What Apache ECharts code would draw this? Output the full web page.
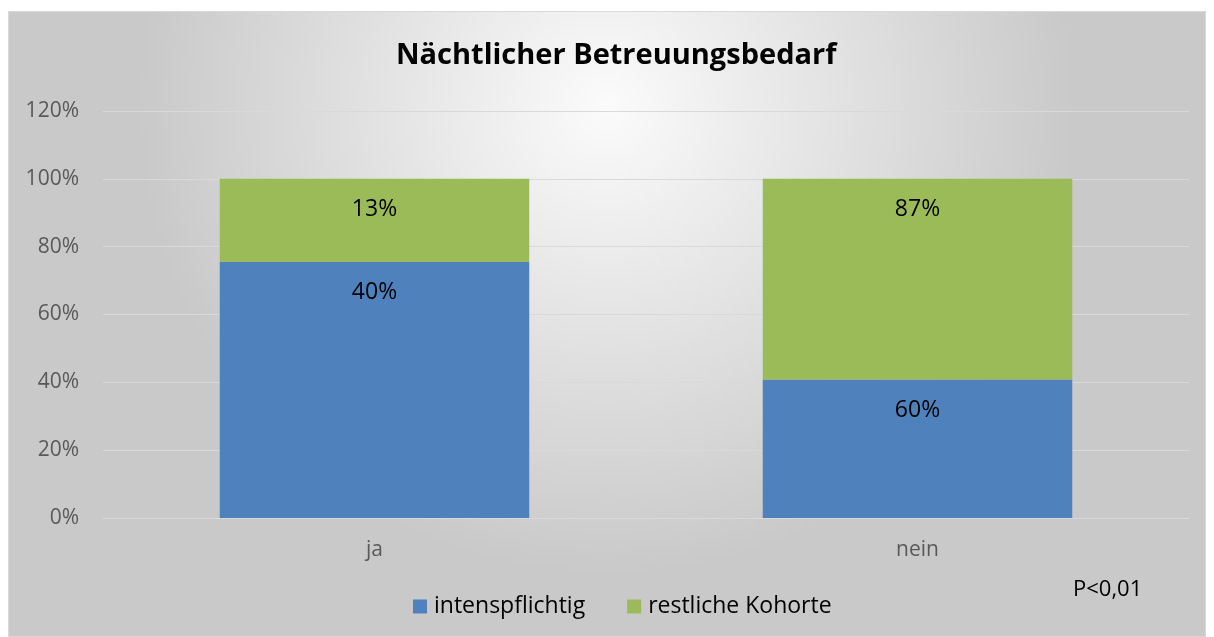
<!DOCTYPE html>
<html>
<head>
<meta charset="utf-8">
<script src="https://cdn.jsdelivr.net/npm/echarts@6/dist/echarts.min.js"></script>
<style>
html, body { margin: 0; padding: 0; background: #ffffff; }
#chart { position: absolute; left: 8px; top: 11px; width: 1198px; height: 626px; border: 1px solid #d9d9d9; box-sizing: border-box; }
</style>
</head>
<body>
<div id="chart"></div>
<script>
var categories = ['ja', 'nein'];
var seriesNames = ['intenspflichtig', 'restliche Kohorte'];
var intensValues = [40, 60];
var restValues = [13, 87];
var yTicks = [0, 20, 40, 60, 80, 100, 120];

var FONT = '"Open Sans", sans-serif';

// 100% gestapelt: Anteil je Kategorie
function share(a, b, i) {
	return a[i] / (a[i] + b[i]) * 100;
}

var intensShare = categories.map(function (c, i) {
	return { value: share(intensValues, restValues, i), raw: intensValues[i] };
});
var restShare = categories.map(function (c, i) {
	return { value: share(restValues, intensValues, i), raw: restValues[i] };
});

var labelStyle = {
	show: true,
	position: 'insideTop',
	distance: 19,
	fontFamily: FONT,
	fontSize: 23,
	color: '#000000',
	formatter: function (p) { return p.data.raw + '%'; }
};

var myChart = echarts.init(document.getElementById('chart'));
option = {
	backgroundColor: {
		type: 'radial',
		x: 0.5, y: 0.15, r: 0.75,
		colorStops: [
			{ offset: 0, color: '#fbfbfb' },
			{ offset: 1, color: '#c9c9c9' }
		]
	},
	title: {
		text: 'Nächtlicher Betreuungsbedarf',
		left: 382,
		top: 24,
		textStyle: {
			fontFamily: FONT,
			fontSize: 29,
			fontWeight: 'bold',
			color: '#000000'
		}
	},
	legend: {
		bottom: 13,
		left: 399,
		itemWidth: 14,
		itemHeight: 14,
		itemGap: 42,
		icon: 'rect',
		textStyle: {
			fontFamily: FONT,
			fontSize: 23,
			color: '#000000',
			padding: [0, 0, 0, 2]
		},
		data: seriesNames
	},
	grid: {
		left: 94,
		right: 16,
		top: 99,
		bottom: 118
	},
	xAxis: {
		type: 'category',
		data: categories,
		axisLine: { lineStyle: { color: '#d9d9d9' } },
		axisTick: { show: false },
		axisLabel: {
			margin: 22,
			fontFamily: FONT,
			fontSize: 21,
			color: '#595959'
		}
	},
	yAxis: {
		type: 'value',
		min: yTicks[0],
		max: yTicks[yTicks.length - 1],
		interval: 20,
		axisLine: { show: false },
		axisTick: { show: false },
		splitLine: { lineStyle: { color: '#d9d9d9', width: 1 } },
		axisLabel: {
			margin: 24,
			fontFamily: FONT,
			fontSize: 21,
			color: '#595959',
			formatter: '{value}%'
		}
	},
	graphic: [{
		type: 'text',
		left: 1064,
		top: 567,
		style: {
			text: 'P<0,01',
			font: '22px ' + FONT,
			fill: '#000000'
		}
	}],
	series: [{
		name: seriesNames[0],
		type: 'bar',
		stack: 'total',
		barWidth: '57%',
		itemStyle: { color: '#4f81bd' },
		label: labelStyle,
		data: intensShare
	}, {
		name: seriesNames[1],
		type: 'bar',
		stack: 'total',
		barWidth: '57%',
		itemStyle: { color: '#9bbb59' },
		label: labelStyle,
		data: restShare
	}]
};
myChart.setOption(option);
</script>
</body>
</html>
